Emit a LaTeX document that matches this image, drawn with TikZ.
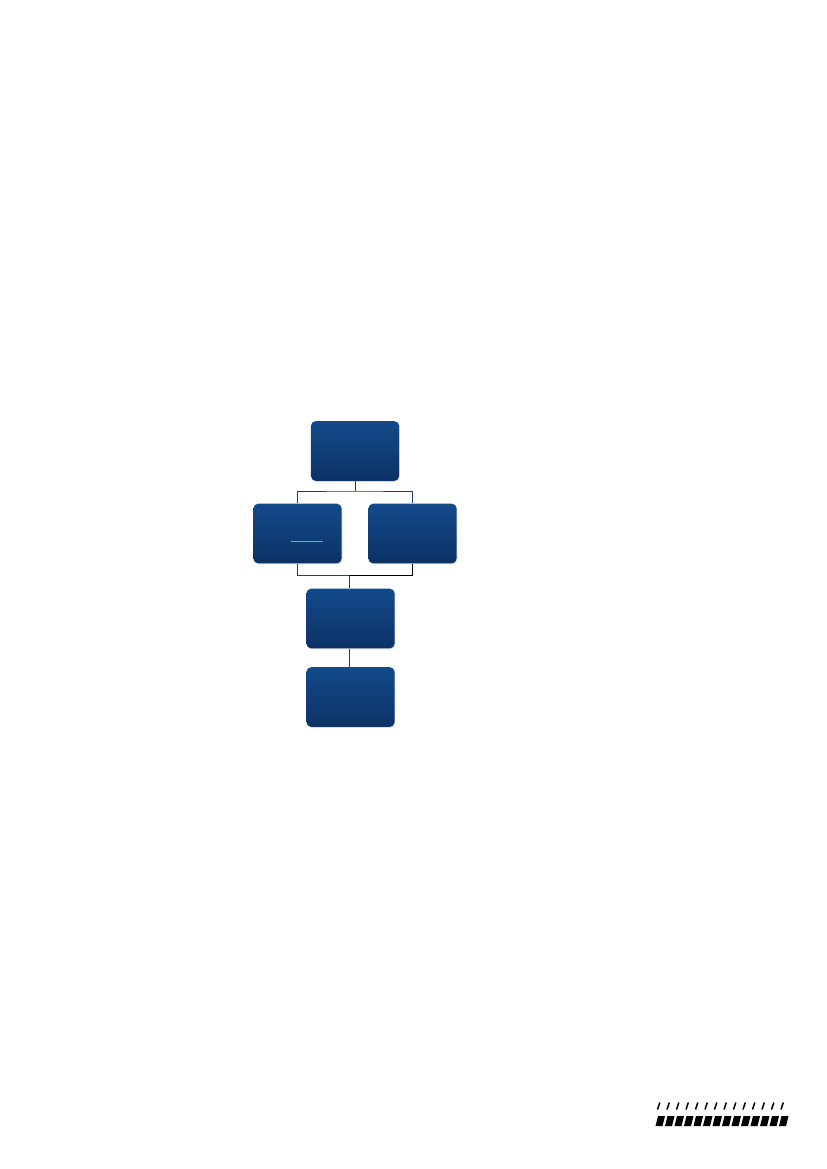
\documentclass[tikz,border=0pt]{standalone}
\usetikzlibrary{shadows}
\definecolor{boxtop}{RGB}{19,74,138}
\definecolor{boxbot}{RGB}{12,50,102}
\definecolor{linkblue}{RGB}{31,63,115}
\begin{document}
\begin{tikzpicture}[x=0.7198pt, y=-0.7198pt,
    box/.style={rounded corners=3.5pt, minimum width=63.5pt, minimum height=43pt,
        top color=boxtop, bottom color=boxbot, draw=none,
        drop shadow={shadow xshift=0.6pt, shadow yshift=-0.8pt, opacity=0.25}},
    link/.style={linkblue, line width=0.7pt}]
    \useasboundingbox (0,0) rectangle (827,1169);
    \node[box] (top) at (355,451) {};
    \node[box] (left) at (297.5,533.5) {};
    \node[box] (right) at (412.5,533.5) {};
    \node[box] (mid) at (350.5,618.5) {};
    \node[box] (bot) at (350.5,697) {};
    \coordinate (s1) at (355,491); \coordinate (s2) at (349,575);
    \draw[link] (top.south) -- (s1);
    \draw[link] (left.north) |- (s1) -| (right.north);
    \draw[link] (left.south) |- (s2) -- (s2|-mid.north);
    \draw[black, line width=0.7pt] (right.south) |- (s2);
    \draw[link] (s2|-mid.south) -- (s2|-bot.north);
    \draw[red!55!white, line width=0.6pt] (291,541) -- (323,541);
    % marks in the corner
    \foreach \i in {0,...,13} {
        \draw[line width=1.1pt] (657.5+9.5*\i,1109.5) -- (659.8+9.5*\i,1102.5);
        \fill (655.5+9.5*\i,1126) -- (662.5+9.5*\i,1126) -- (665+9.5*\i,1116) -- (658+9.5*\i,1116) -- cycle;
    }
\end{tikzpicture}
\end{document}
